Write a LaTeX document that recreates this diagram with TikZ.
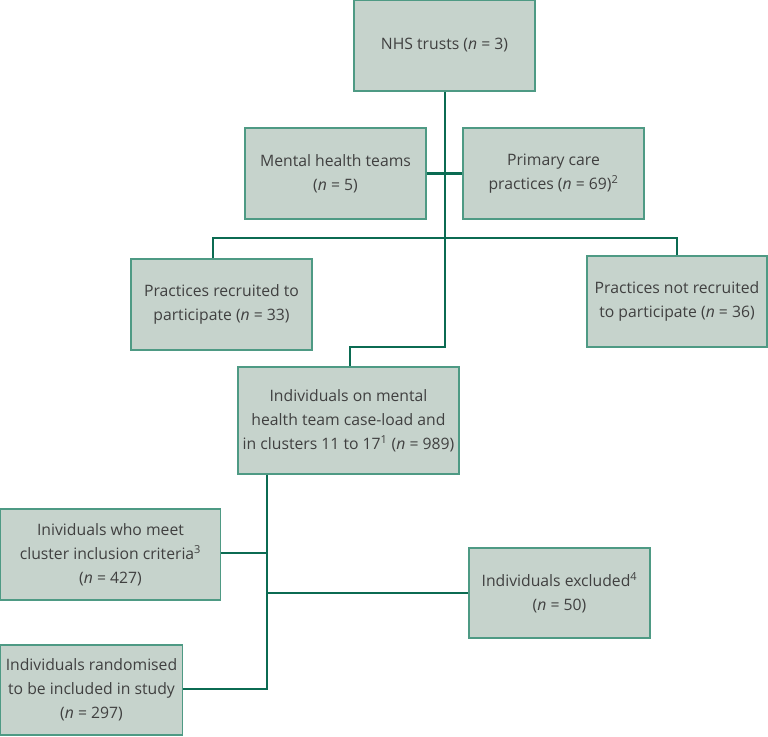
\documentclass[tikz,border=0pt]{standalone}
\usepackage{fontspec}
\setmainfont{Open Sans}
\definecolor{boxfill}{HTML}{C6D3CC}
\definecolor{boxline}{HTML}{4E9A84}
\definecolor{connline}{HTML}{0B6B52}
\definecolor{txt}{HTML}{404040}
\begin{document}
\begin{tikzpicture}[x=0.75pt,y=-0.75pt,
  flowbox/.style={draw=boxline,fill=boxfill,line width=0.9pt,align=center,
    text=txt,font=\fontsize{11.8}{18}\selectfont,inner sep=1pt},
  conn/.style={draw=connline,line width=1.6pt}]
\useasboundingbox (0,0) rectangle (768,736);
\newcommand{\nn}{\textit{n}}
\node[flowbox,minimum width=135.75pt,minimum height=68.25pt] (nhs) at (444.5,45.5) {NHS trusts (\nn{} = 3)};
\node[flowbox,minimum width=135.75pt,minimum height=68.25pt] (mht) at (335.5,173.5) {Mental health teams\\(\nn{} = 5)};
\node[flowbox,minimum width=135.75pt,minimum height=68.25pt] (pcp) at (553.5,173.5) {Primary care\\practices (\nn{} = 69)\textsuperscript{2}};
\node[flowbox,minimum width=135.75pt,minimum height=68.25pt] (rec) at (221.5,304.5) {Practices recruited to\\participate (\nn{} = 33)};
\node[flowbox,minimum width=135pt,minimum height=68.25pt] (notrec) at (677,301.5) {Practices not recruited\\to participate (\nn{} = 36)};
\node[flowbox,minimum width=165.75pt,minimum height=80.25pt] (ind) at (348.5,420.5) {Individuals on mental\\health team case-load and\\in clusters 11 to 17\textsuperscript{1} (\nn{} = 989)};
\node[flowbox,minimum width=165pt,minimum height=68.25pt] (meet) at (110.5,554.5) {Inividuals who meet\\cluster inclusion criteria\textsuperscript{3}\\(\nn{} = 427)};
\node[flowbox,minimum width=135.75pt,minimum height=67.5pt] (excl) at (559.5,593) {Individuals excluded\textsuperscript{4}\\(\nn{} = 50)};
\node[flowbox,minimum width=136.5pt,minimum height=67.5pt] (rand) at (91.5,690) {Individuals randomised\\to be included in study\\(\nn{} = 297)};
% connectors
\coordinate (j1) at (445,347);
\coordinate (j2) at (350,347);
\coordinate (bl) at (213,238);
\coordinate (br) at (677,238);
\coordinate (t2) at (267,689);
\coordinate (jm) at (267,553);
\coordinate (je) at (267,593);
\draw[conn] (nhs.south -| j1) -- (j1) -- (j2) -- (ind.north -| j2);
\draw[conn] (mht.east) -- (pcp.west);
\draw[conn] (rec.north -| bl) -- (bl) -- (br) -- (notrec.north -| br);
\draw[conn] (ind.south -| t2) -- (t2) -- (rand.east |- t2);
\draw[conn] (meet.east |- jm) -- (jm);
\draw[conn] (je) -- (excl.west |- je);
\end{tikzpicture}
\end{document}
